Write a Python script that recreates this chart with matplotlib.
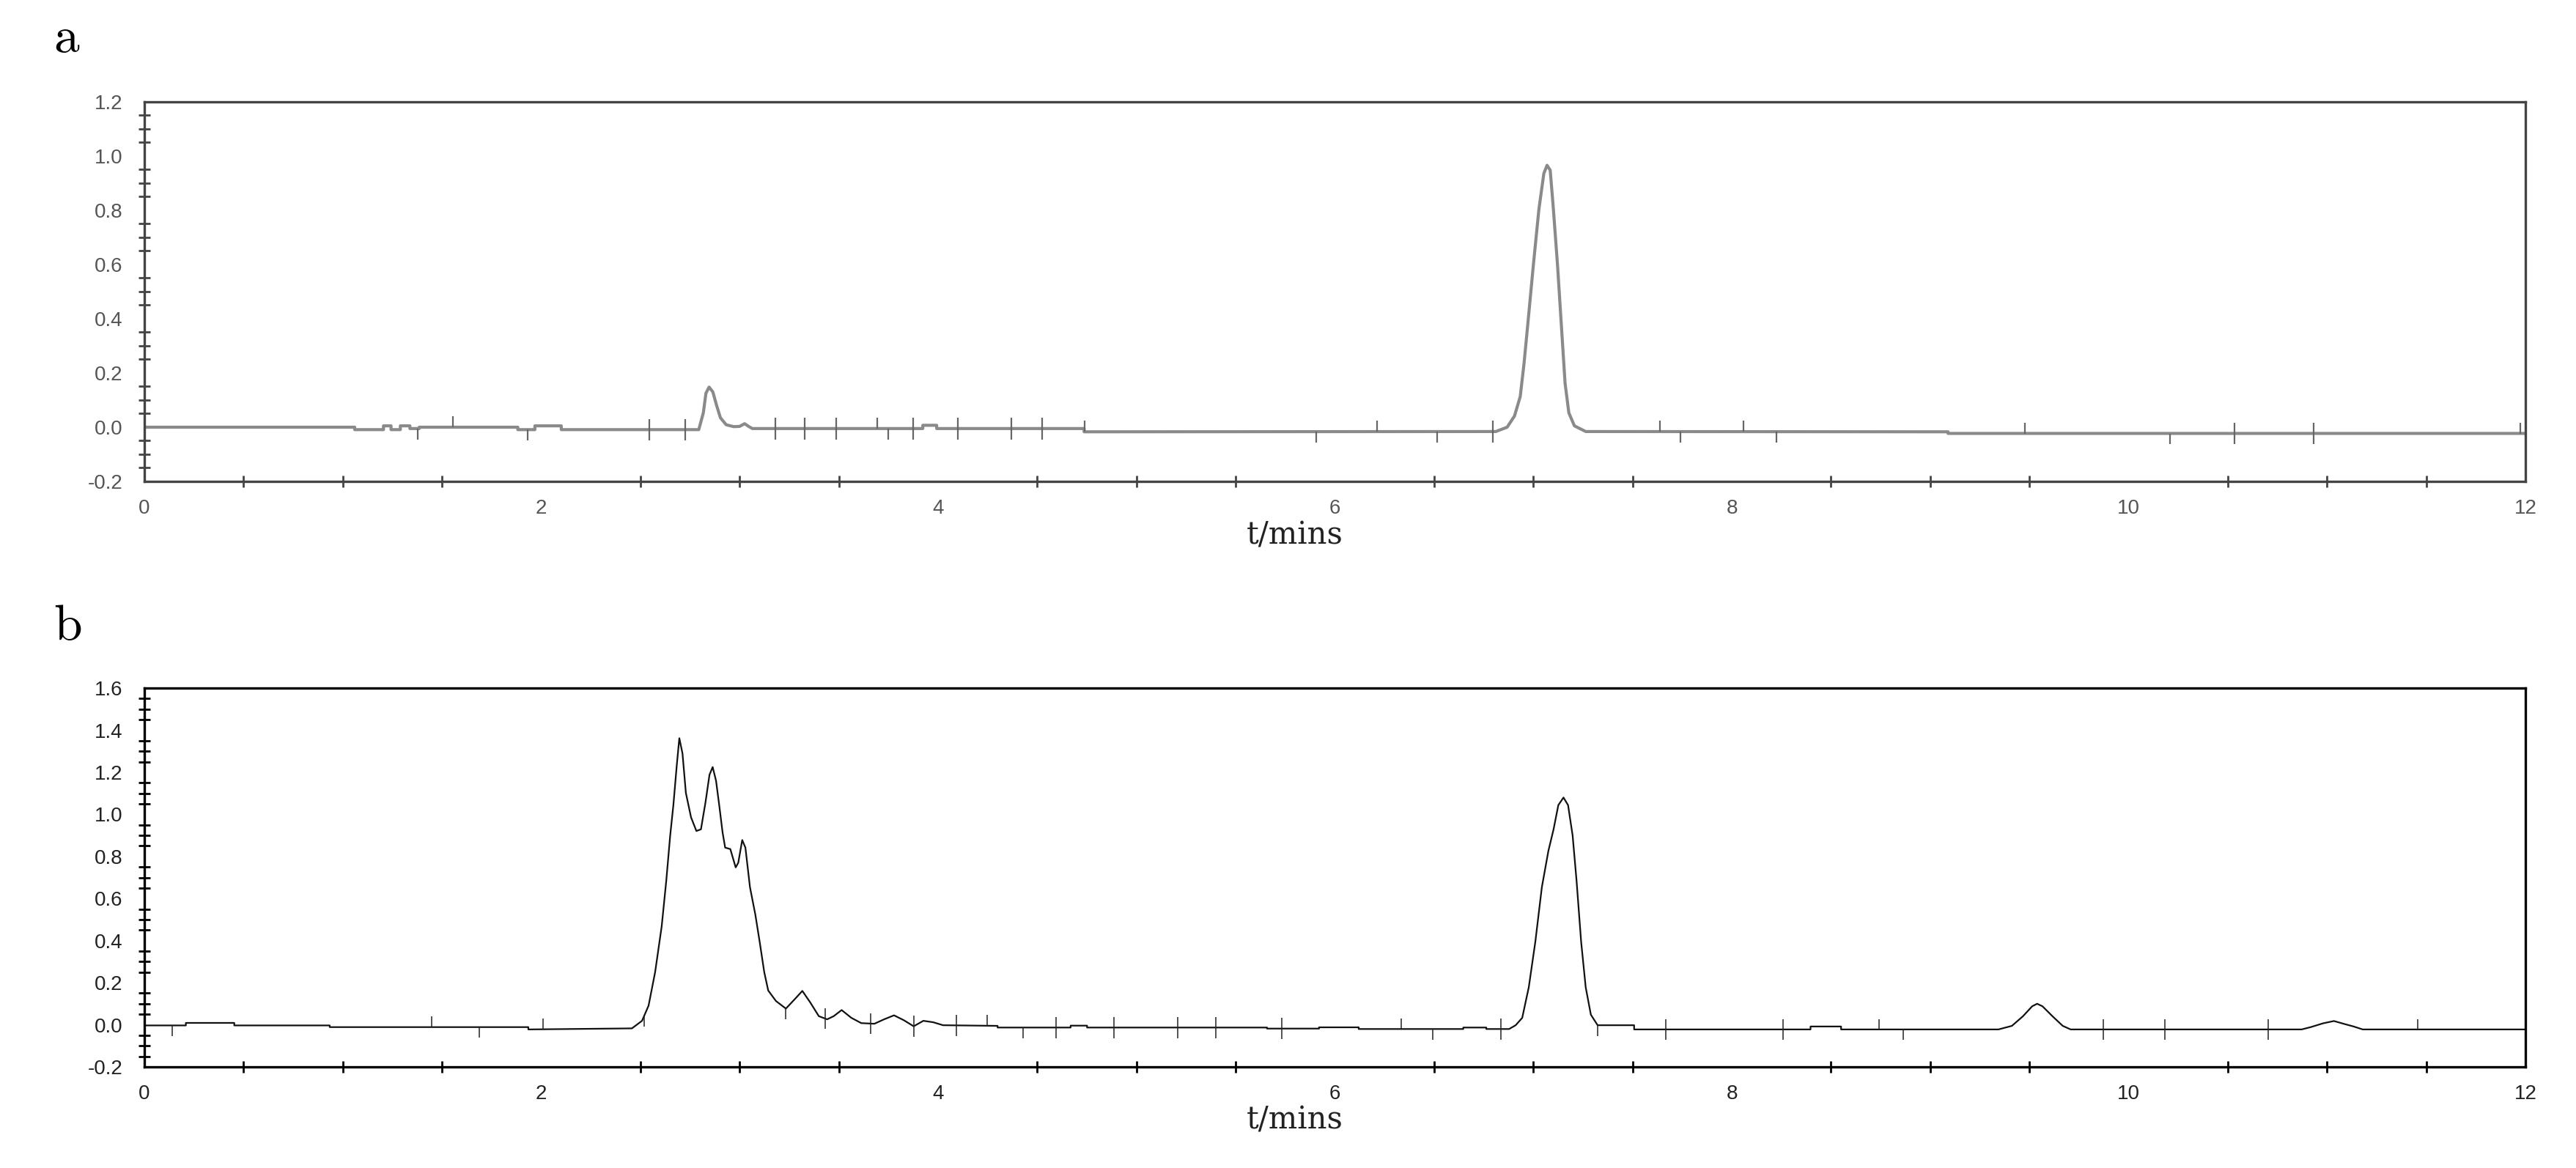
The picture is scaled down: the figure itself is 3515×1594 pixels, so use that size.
import matplotlib.pyplot as plt
import numpy as np
from matplotlib.ticker import MultipleLocator

plt.rcParams['font.family'] = ['Liberation Sans', 'DejaVu Sans']

# ---- chromatogram a (time in min, signal) ----
t_a = [0, 1.06, 1.06, 1.205, 1.205, 1.243, 1.243, 1.29, 1.29, 1.338, 1.338, 1.385, 1.385,
       1.882, 1.882, 1.968, 1.968, 2.101, 2.101, 2.794, 2.817, 2.830, 2.846, 2.865, 2.884,
       2.903, 2.932, 2.97, 3.0, 3.025, 3.045, 3.064, 3.923, 3.923, 3.993, 3.993, 4.736, 4.736,
       6.811, 6.868, 6.905, 6.934, 6.953, 6.972, 7.000, 7.028, 7.053, 7.069, 7.085, 7.100,
       7.122, 7.141, 7.160, 7.179, 7.207, 7.264, 9.09, 9.09, 12]
y_a = [0, 0, -0.009, -0.009, 0.005, 0.005, -0.009, -0.009, 0.005, 0.005, -0.005, -0.005, 0.0,
       0.0, -0.009, -0.009, 0.005, 0.005, -0.009, -0.009, 0.053, 0.125, 0.148, 0.130, 0.080,
       0.035, 0.009, 0.002, 0.003, 0.013, 0.003, -0.005, -0.005, 0.007, 0.007, -0.005, -0.005, -0.017,
       -0.016, 0.0, 0.041, 0.113, 0.234, 0.379, 0.597, 0.803, 0.936, 0.966, 0.948, 0.815,
       0.597, 0.379, 0.162, 0.053, 0.005, -0.016, -0.017, -0.023, -0.023]

# integration marks on the baseline of a
marks_a_up = [1.554, 3.694, 4.74, 6.212, 7.637, 8.059, 9.478, 11.973]
marks_a_down = [1.376, 1.930, 3.749, 5.906, 6.515, 7.741, 8.225, 10.209]
marks_a_cross = [2.546, 2.727, 3.181, 3.328, 3.485, 3.876, 4.10, 4.371, 4.525, 6.796,
                 10.532, 10.933]

# ---- chromatogram b ----
t_b = [0, 0.209, 0.209, 0.453, 0.453, 0.934, 0.934, 1.935, 1.935, 2.457,
       2.508, 2.541, 2.574, 2.607, 2.630, 2.650, 2.666, 2.683, 2.696, 2.712, 2.729, 2.755,
       2.782, 2.805, 2.828, 2.848, 2.864, 2.881, 2.897, 2.914, 2.927, 2.953, 2.980, 2.993,
       3.013, 3.029, 3.052, 3.079, 3.101, 3.124, 3.144, 3.183, 3.233, 3.276, 3.316, 3.356,
       3.399, 3.441, 3.474, 3.514, 3.563, 3.613, 3.679, 3.728, 3.778, 3.827, 3.877, 3.926,
       3.976, 4.025, 4.30, 4.30, 4.668, 4.668, 4.751, 4.751, 5.658, 5.658, 5.92, 5.92,
       6.12, 6.12, 6.647, 6.647, 6.763, 6.763, 6.878,
       6.911, 6.944, 6.977, 7.010, 7.043, 7.076, 7.102, 7.126, 7.152, 7.175, 7.198, 7.218,
       7.241, 7.264, 7.290, 7.324, 7.508, 7.508, 8.397, 8.397, 8.551, 8.551,
       9.344, 9.412, 9.468, 9.514, 9.539, 9.566, 9.616, 9.668, 9.708,
       10.872, 10.918, 10.980, 11.035, 11.087, 11.134, 11.180, 12]
y_b = [-0.003, -0.003, 0.009, 0.009, -0.003, -0.003, -0.011, -0.011, -0.022, -0.017,
       0.019, 0.091, 0.25, 0.467, 0.683, 0.90, 1.044, 1.232, 1.362, 1.289, 1.102, 0.986,
       0.921, 0.929, 1.058, 1.188, 1.225, 1.160, 1.044, 0.914, 0.842, 0.835, 0.748, 0.770,
       0.878, 0.842, 0.654, 0.524, 0.394, 0.250, 0.163, 0.113, 0.077, 0.120, 0.161, 0.106,
       0.041, 0.026, 0.041, 0.070, 0.033, 0.008, 0.005, 0.026, 0.045, 0.022, -0.007, 0.019,
       0.012, -0.002, -0.005, -0.013, -0.013, -0.004, -0.004, -0.013, -0.013, -0.018, -0.018, -0.012,
       -0.012, -0.020, -0.020, -0.013, -0.013, -0.020, -0.020,
       -0.002, 0.033, 0.178, 0.394, 0.654, 0.827, 0.929, 1.044, 1.080, 1.044, 0.90, 0.683,
       0.394, 0.178, 0.048, -0.002, -0.002, -0.022, -0.022, -0.008, -0.008, -0.022,
       -0.022, -0.005, 0.041, 0.088, 0.100, 0.088, 0.041, -0.005, -0.022,
       -0.022, -0.011, 0.007, 0.018, 0.004, -0.008, -0.022, -0.022]

marks_b_up = [1.447, 2.011, 4.246, 6.334, 8.742, 11.458]
marks_b_down = [0.139, 1.687, 2.518, 3.233, 4.427, 6.492, 7.324, 8.866]
marks_b_cross = [3.431, 3.662, 3.877, 4.091, 4.593, 4.886, 5.206, 5.401, 5.734, 6.835,
                 7.668, 8.258, 9.874, 10.184, 10.702]

xticks = [0, 2, 4, 6, 8, 10, 12]
yticks_a = [-0.2, 0.0, 0.2, 0.4, 0.6, 0.8, 1.0, 1.2]
ylabels_a = ['-0.2', '0.0', '0.2', '0.4', '0.6', '0.8', '1.0', '1.2']
yticks_b = [-0.2, 0.0, 0.2, 0.4, 0.6, 0.8, 1.0, 1.2, 1.4, 1.6]
ylabels_b = ['-0.2', '0.0', '0.2', '0.4', '0.6', '0.8', '1.0', '1.2', '1.4', '1.6']


fig = plt.figure(figsize=(35.15, 15.94), dpi=100)
ax1 = fig.add_axes([0.05605, 0.58783, 0.92432, 0.32497])
ax2 = fig.add_axes([0.05605, 0.08657, 0.92432, 0.3243])


def style(ax, yt, yl, ylim, fg, lab_col, mk):
    ax.set_xlim(0, 12)
    ax.set_ylim(*ylim)
    ax.set_xticks(xticks)
    ax.set_xticklabels([str(v) for v in xticks])
    ax.set_yticks(yt)
    ax.set_yticklabels(yl)
    ax.xaxis.set_minor_locator(MultipleLocator(0.5))
    ax.yaxis.set_minor_locator(MultipleLocator(0.05))
    ax.tick_params(which='major', length=0, labelsize=20, labelcolor=lab_col)
    ax.tick_params(axis='x', which='major', pad=17)
    ax.tick_params(axis='y', which='major', pad=21)
    ax.tick_params(which='minor', direction='inout', length=12, width=2.0, color=fg)
    for s in ax.spines.values():
        s.set_color(fg)
        s.set_linewidth(2.4)
    ax.text(0.483, -0.141, 't/mins', transform=ax.transAxes, ha='center', va='center',
            fontsize=30, family='DejaVu Serif', color='#222222')


style(ax1, yticks_a, ylabels_a, (-0.2, 1.2), '#444444', '#555555', None)
style(ax2, yticks_b, ylabels_b, (-0.2, 1.6), '#000000', '#222222', None)

ax1.plot(t_a, y_a, color='#8a8a8a', linewidth=3.0, solid_joinstyle='round')
ax2.plot(t_b, y_b, color='#111111', linewidth=1.6)

# baseline event marks
h = 0.04
yb = np.interp(marks_a_up, t_a, y_a)
ax1.vlines(marks_a_up, yb, yb + h, color='#666666', linewidth=1.6)
yb = np.interp(marks_a_down, t_a, y_a)
ax1.vlines(marks_a_down, yb - h, yb, color='#666666', linewidth=1.6)
yb = np.interp(marks_a_cross, t_a, y_a)
ax1.vlines(marks_a_cross, yb - h, yb + h, color='#666666', linewidth=1.6)

h = 0.05
yb = np.interp(marks_b_up, t_b, y_b)
ax2.vlines(marks_b_up, yb, yb + h, color='#222222', linewidth=1.1)
yb = np.interp(marks_b_down, t_b, y_b)
ax2.vlines(marks_b_down, yb - h, yb, color='#222222', linewidth=1.1)
yb = np.interp(marks_b_cross, t_b, y_b)
ax2.vlines(marks_b_cross, yb - h, yb + h, color='#222222', linewidth=1.1)

fig.text(0.0208, 0.9555, 'a', fontsize=50, family='cmr10', va='baseline')
fig.text(0.0208, 0.4523, 'b', fontsize=50, family='cmr10', va='baseline')

fig.savefig('out.png', dpi=100)
